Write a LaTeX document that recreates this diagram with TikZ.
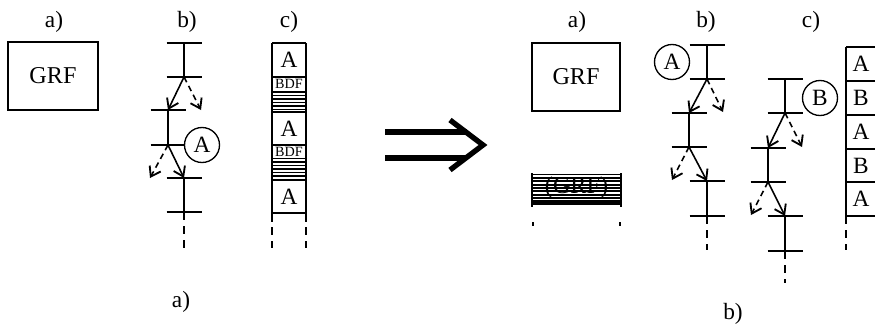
\documentclass[tikz,border=0pt]{standalone}
\usepackage{fontspec}
\setmainfont{Liberation Serif}
\usetikzlibrary{arrows.meta}

\begin{document}
\begin{tikzpicture}[x=0.6pt,y=-0.6pt,
	lbl/.style={font=\fontsize{14}{16}\selectfont},
	seg/.style={line width=0.95pt},
	mv/.style={line width=0.95pt,-{Straight Barb[length=5.5pt,width=7.5pt,line width=1.1pt]}},
	alt/.style={mv,dash pattern=on 3.5pt off 2.5pt},
	cont/.style={line width=0.95pt,dash pattern=on 4.5pt off 4pt},
	state/.style={shape=circle,draw=black,line width=0.8pt,minimum size=21pt,inner sep=0pt,font=\fontsize{14}{16}\selectfont},
	cell/.style={font=\fontsize{14}{16}\selectfont,inner sep=0pt},
	bdf/.style={font=\fontsize{8.5}{9}\selectfont,inner sep=0pt}]
	\useasboundingbox (0,0) rectangle (875,327);

	% labels
	\node[lbl] (la1) at (54,22)   {a)};
	\node[lbl] (lb1) at (187,22)  {b)};
	\node[lbl] (lc1) at (289,22)  {c)};
	\node[lbl] (la2) at (577,22)  {a)};
	\node[lbl] (lb2) at (706,22)  {b)};
	\node[lbl] (lc2) at (811,22)  {c)};
	\node[lbl] (pa)  at (181,302) {a)};
	\node[lbl] (pb)  at (733,314) {b)};

	% a) GRF boxes
	\node[draw=black,line width=1.6pt,minimum width=54pt,minimum height=40.8pt,font=\fontsize{14.5}{16}\selectfont] (grf1) at (53,76) {GRF};
	\node[draw=black,line width=1.2pt,minimum width=52.8pt,minimum height=40.8pt,font=\fontsize{14.5}{16}\selectfont] (grf2) at (576,77) {GRF};
	\node[font=\fontsize{14.5}{16}\selectfont] (grf3) at (576.5,188) {(GRF)};
	\foreach \k in {0,...,7}
		\draw[line width=1.15pt] (532,174.5+\k*3.35) -- (621,174.5+\k*3.35);
	\draw[line width=3pt] (532,202.5) -- (621,202.5);
	\draw[line width=1.2pt] (532,173) -- (532,207);
	\draw[line width=1.2pt] (621,173) -- (621,207);
	\draw[line width=1.4pt] (533,222) -- (533,226);
	\draw[line width=1.4pt] (620,222) -- (620,226);

	% b) left ladder
	\coordinate (l1t) at (184,43);
	\coordinate (l1b) at (184,77);
	\coordinate (l2t) at (168,110);
	\coordinate (l2b) at (168,145);
	\coordinate (l3t) at (184,178);
	\coordinate (l3b) at (184,212);
	\coordinate (l3e) at (184,248);
	\coordinate (l1x) at (201,110);
	\coordinate (l2x) at (150,178);
	\node[state] (sa) at (202,145) {A};
	\foreach \p in {l1t,l1b,l2t,l3t,l3b}
		\draw[seg] ([xshift=-10.5pt]\p) -- ([xshift=10.5pt]\p);
	\draw[seg] ([xshift=-10.5pt]l2b) -- (sa.west);
	\draw[seg] (l1t) -- (l1b);
	\draw[seg] (l2t) -- (l2b);
	\draw[seg] (l3t) -- (l3b);
	\draw[cont] (l3b) -- (l3e);
	\draw[mv] (l1b) -- (l2t);
	\draw[alt] (l1b) -- (l1x);
	\draw[mv] (l2b) -- (l3t);
	\draw[alt] (l2b) -- (l2x);

	% c) left column
	\node[cell] (ca1) at (289,60)    {A};
	\node[bdf]  (cb1) at (289,84)    {BDF};
	\node[cell] (ca2) at (289,128.5) {A};
	\node[bdf]  (cb2) at (289,151.5) {BDF};
	\node[cell] (ca3) at (289,196.5) {A};
	\foreach \y in {43,77,112,145,180,213}
		\draw[seg] (272,\y) -- (306,\y);
	\foreach \y in {92,158.5} {
		\foreach \k in {0,...,5}
			\draw[line width=1pt] (272,\y+\k*3.5) -- (306,\y+\k*3.5);
	}
	\draw[seg] (272,43) -- (272,222);
	\draw[seg] (306,43) -- (306,222);
	\draw[cont] (272,213) -- (272,248);
	\draw[cont] (306,213) -- (306,248);

	% big arrow
	\coordinate (bs1) at (385,132);
	\coordinate (be1) at (467,132);
	\coordinate (bs2) at (385,158);
	\coordinate (be2) at (466,158);
	\coordinate (bt)  at (450,120);
	\coordinate (bk)  at (483,145);
	\coordinate (bb)  at (450,170);
	\draw[line width=3.2pt] (bs1) -- (be1);
	\draw[line width=3.2pt] (bs2) -- (be2);
	\draw[line width=3.2pt,line join=miter] (bt) -- (bk) -- (bb);

	% b) right ladder with A
	\coordinate (r1t) at (707,45);
	\coordinate (r1b) at (707,79);
	\coordinate (r2t) at (689,113);
	\coordinate (r2b) at (689,147);
	\coordinate (r3t) at (707,181);
	\coordinate (r3b) at (707,216);
	\coordinate (r3e) at (707,250);
	\coordinate (r1x) at (723,112);
	\coordinate (r2x) at (672,180);
	\node[state] (sra) at (672,62) {A};
	\foreach \p in {r1t,r1b,r2t,r2b,r3t,r3b}
		\draw[seg] ([xshift=-10.5pt]\p) -- ([xshift=10.5pt]\p);
	\draw[seg] (r1t) -- (r1b);
	\draw[seg] (r2t) -- (r2b);
	\draw[seg] (r3t) -- (r3b);
	\draw[cont] (r3b) -- (r3e);
	\draw[mv] (r1b) -- (r2t);
	\draw[alt] (r1b) -- (r1x);
	\draw[mv] (r2b) -- (r3t);
	\draw[alt] (r2b) -- (r2x);

	% b) right ladder with B
	\coordinate (m1t) at (785,79);
	\coordinate (m1b) at (785,113);
	\coordinate (m2t) at (768,148);
	\coordinate (m2b) at (768,182);
	\coordinate (m3t) at (785,216);
	\coordinate (m3b) at (785,251);
	\coordinate (m3e) at (785,283);
	\coordinate (m1x) at (802,147);
	\coordinate (m2x) at (751,215);
	\node[state] (srb) at (820,98) {B};
	\foreach \p in {m1t,m1b,m2t,m2b,m3t,m3b}
		\draw[seg] ([xshift=-10.5pt]\p) -- ([xshift=10.5pt]\p);
	\draw[seg] (m1t) -- (m1b);
	\draw[seg] (m2t) -- (m2b);
	\draw[seg] (m3t) -- (m3b);
	\draw[cont] (m3b) -- (m3e);
	\draw[mv] (m1b) -- (m2t);
	\draw[alt] (m1b) -- (m1x);
	\draw[mv] (m2b) -- (m3t);
	\draw[alt] (m2b) -- (m2x);

	% c) right column
	\node[cell] (cr1) at (861,64)  {A};
	\node[cell] (cr2) at (861,98)  {B};
	\node[cell] (cr3) at (861,132) {A};
	\node[cell] (cr4) at (861,165.5) {B};
	\node[cell] (cr5) at (861,199) {A};
	\foreach \y in {47,81,115,149,182,216}
		\draw[seg] (846,\y) -- (875,\y);
	\draw[seg] (846,47) -- (846,216);
	\draw[cont] (846,216) -- (846,250);
\end{tikzpicture}
\end{document}
